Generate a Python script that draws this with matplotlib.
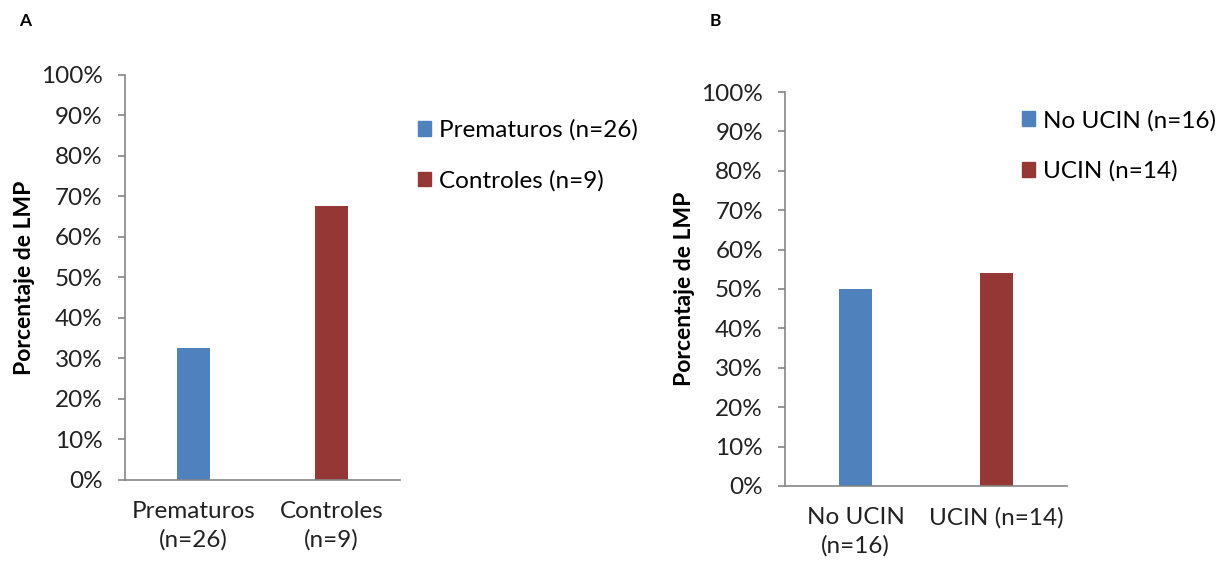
import matplotlib.pyplot as plt
from matplotlib.ticker import PercentFormatter
from matplotlib.patches import Patch

plt.rcParams['font.family'] = ['Lato', 'DejaVu Sans']

# Datos panel A
cats_a = ['Prematuros\n(n=26)', 'Controles\n(n=9)']
leg_a = ['Prematuros (n=26)', 'Controles (n=9)']
vals_a = [32.6, 67.6]

# Datos panel B
cats_b = ['No UCIN\n(n=16)', 'UCIN (n=14)']
leg_b = ['No UCIN (n=16)', 'UCIN (n=14)']
vals_b = [50.0, 54.0]

colores = ['#4F81BD', '#953735']
gris = '#868686'

fig = plt.figure(figsize=(12.21, 5.68), dpi=100)
ax_a = fig.add_axes([0.1024, 0.155, 0.2252, 0.713])
ax_b = fig.add_axes([0.643, 0.1444, 0.231, 0.6936])


def panel(ax, cats, vals, legs, ancho, leg_pos):
    x = range(len(cats))
    ax.bar(x, vals, width=ancho, color=colores)
    ax.set_xlim(-0.5, 1.5)
    ax.set_ylim(0, 100)
    ax.set_yticks(range(0, 101, 10))
    ax.yaxis.set_major_formatter(PercentFormatter(decimals=0))
    ax.set_xticks(list(x))
    ax.set_xticklabels(cats, fontsize=17.5, color='#222222', linespacing=1.4)
    ax.tick_params(axis='x', length=0, pad=15)
    ax.tick_params(axis='y', length=5, width=1.2, color=gris,
                   labelsize=17.5, labelcolor='#222222', pad=11)
    for s in ['top', 'right']:
        ax.spines[s].set_visible(False)
    for s in ['left', 'bottom']:
        ax.spines[s].set_color(gris)
        ax.spines[s].set_linewidth(1.2)
    ax.set_ylabel('Porcentaje de LMP', fontsize=16.5, fontweight='bold', labelpad=4)
    handles = [Patch(color=c, label=l) for c, l in zip(colores, legs)]
    ax.legend(handles=handles, loc='upper left', bbox_to_anchor=leg_pos,
              frameon=False, fontsize=17.5, handlelength=0.55, handleheight=0.55,
              handletextpad=0.3, labelspacing=1.2, borderpad=0, borderaxespad=0)


panel(ax_a, cats_a, vals_a, leg_a, 0.24, (1.065, 0.89))
panel(ax_b, cats_b, vals_b, leg_b, 0.23, (0.84, 0.955))

fig.text(0.016, 0.955, 'A', fontsize=12.5, fontweight='bold')
fig.text(0.581, 0.955, 'B', fontsize=12.5, fontweight='bold')

fig.savefig('out.png', dpi=100)
